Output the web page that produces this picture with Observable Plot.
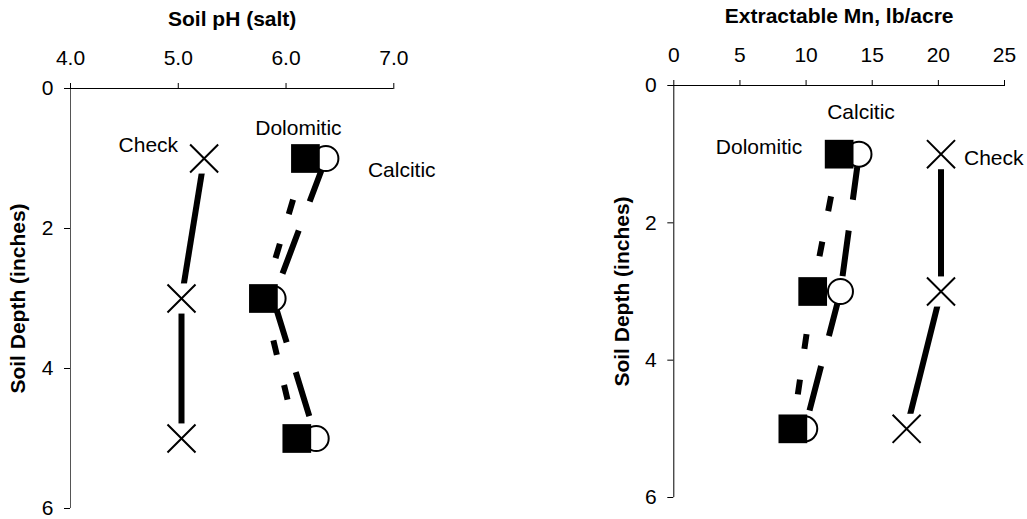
<!DOCTYPE html>
<html>
<head>
<meta charset="utf-8">
<script src="https://cdn.jsdelivr.net/npm/d3@7"></script>
<script src="https://cdn.jsdelivr.net/npm/@observablehq/plot@0.6"></script>
<style>
  html, body { margin: 0; padding: 0; background: #fff; }
  #wrap { position: relative; width: 1027px; height: 519px; overflow: hidden; }
  #wrap > div { position: absolute; top: 0; }
  #left { left: 0; }
  #right { left: 513px; }
  svg { max-width: none !important; }
</style>
</head>
<body>
<div id="wrap"><div id="left"></div><div id="right"></div></div>
<script>
// Sampling depths (inches) and depth axis ticks
const depth = [1, 3, 5];
const depthTicks = [0, 2, 4, 6];

// Soil pH (salt) by treatment
const phTicks = [4, 5, 6, 7];
const phCheck = [5.24, 5.03, 5.03];
const phCalcitic = [6.37, 5.88, 6.28];
const phDolomitic = [6.18, 5.79, 6.10];

// Extractable Mn (lb/acre) by treatment
const mnTicks = [0, 5, 10, 15, 20, 25];
const mnCheck = [20.2, 20.2, 17.6];
const mnCalcitic = [14.0, 12.6, 9.9];
const mnDolomitic = [12.5, 10.5, 9.0];

const font = "'Liberation Sans', Arial, Helvetica, sans-serif";

const points = (xs) => xs.map((x, i) => ({x, y: depth[i]}));
const segments = (xs) =>
  d3.pairs(points(xs)).map(([a, b]) => ({x1: a.x, y1: a.y, x2: b.x, y2: b.y}));
const seg = {x1: "x1", y1: "y1", x2: "x2", y2: "y2", stroke: "#000", strokeWidth: 6, strokeLinecap: "butt"};

function profile({width, height, margins, xDomain, xTicks, xFormat, title,
                  check, calcitic, dolomitic, labels, yLine}) {
  const [mt, mr, mb, ml] = margins;
  const label = (name, xs, opts) =>
    Plot.text([points(xs)[0]], {x: "x", y: "y", text: () => name, ...opts});
  return Plot.plot({
    width, height,
    marginTop: mt, marginRight: mr, marginBottom: mb, marginLeft: ml,
    style: {fontFamily: font, fontSize: "21px", color: "#000", background: "#fff", overflow: "visible"},
    x: {domain: xDomain, axis: null},
    y: {domain: [0, 6], reverse: true, axis: null},
    marks: [
      // axis lines
      Plot.ruleY([0], {stroke: "#000", strokeWidth: 1}),
      Plot.ruleX([xDomain[0]], {stroke: yLine, strokeWidth: 1}),
      Plot.axisX({anchor: "top", ticks: xTicks, tickFormat: xFormat, tickSize: 6, tickPadding: 18, label: null}),
      Plot.axisY({anchor: "left", ticks: depthTicks, tickFormat: d3.format("d"), tickSize: 6, tickPadding: 11, label: null}),
      Plot.text([title], {frameAnchor: "top", dy: -69, fontWeight: "bold", lineAnchor: "middle"}),
      Plot.text(["Soil Depth (inches)"], {frameAnchor: "left", textAnchor: "middle", rotate: -90, dx: -52, fontWeight: "bold"}),

      // Check: solid line, × markers on a white backing
      Plot.link(segments(check), seg),
      Plot.dot(points(check), {x: "x", y: "y", symbol: "square", r: 17, fill: "#fff"}),
      Plot.dot(points(check), {x: "x", y: "y", symbol: "times", r: 12.8, stroke: "#000", strokeWidth: 2}),

      // Calcitic: long dashes, open circles
      Plot.link(segments(calcitic), {...seg, strokeDasharray: "46,31"}),
      Plot.dot(points(calcitic), {x: "x", y: "y", r: 12.5, fill: "#fff", stroke: "#000", strokeWidth: 2}),

      // Dolomitic: short dashes, filled squares
      Plot.link(segments(dolomitic), {...seg, strokeDasharray: "15,31", strokeDashoffset: 3}),
      Plot.dot(points(dolomitic), {x: "x", y: "y", symbol: "square", r: 16.2, fill: "#000"}),

      // series labels
      label("Check", check, labels.check),
      label("Calcitic", calcitic, labels.calcitic),
      label("Dolomitic", dolomitic, labels.dolomitic)
    ]
  });
}

document.getElementById("left").append(profile({
  width: 513, height: 519,
  margins: [88, 119.7, 11, 70],
  xDomain: [4, 7], xTicks: phTicks, xFormat: d3.format(".1f"),
  title: "Soil pH (salt)",
  check: phCheck, calcitic: phCalcitic, dolomitic: phDolomitic,
  yLine: "#555",
  labels: {
    check: {textAnchor: "end", dx: -26, dy: -13},
    dolomitic: {textAnchor: "middle", dx: -7, dy: -30},
    calcitic: {textAnchor: "start", dx: 42, dy: 12}
  }
}));

document.getElementById("right").append(profile({
  width: 514, height: 519,
  margins: [85, 23, 22, 160.3],
  xDomain: [0, 25], xTicks: mnTicks, xFormat: d3.format("d"),
  title: "Extractable Mn, lb/acre",
  check: mnCheck, calcitic: mnCalcitic, dolomitic: mnDolomitic,
  yLine: "#000",
  labels: {
    calcitic: {textAnchor: "middle", dx: 2, dy: -42},
    dolomitic: {textAnchor: "end", dx: -37, dy: -7},
    check: {textAnchor: "start", dx: 23, dy: 4}
  }
}));
</script>
</body>
</html>
